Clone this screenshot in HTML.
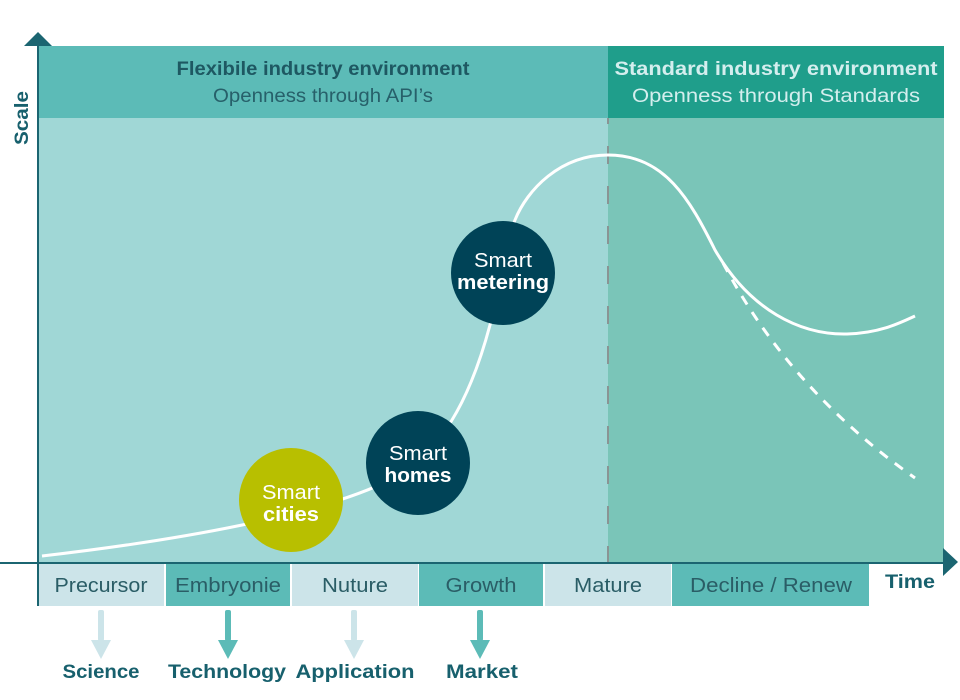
<!DOCTYPE html>
<html><head><meta charset="utf-8"><style>
html,body{margin:0;padding:0;background:#fff;}
svg{display:block;}
text{font-family:"Liberation Sans",sans-serif;}
</style></head><body>
<svg width="960" height="700" viewBox="0 0 960 700" xmlns="http://www.w3.org/2000/svg">
<!-- header -->
<rect x="38" y="46" width="570" height="72" fill="#5cbbb7"/>
<rect x="608" y="46" width="336" height="72" fill="#1f9e8b"/>
<!-- body -->
<rect x="38" y="118" width="570" height="445" fill="#a0d7d6"/>
<rect x="608" y="118" width="336" height="445" fill="#7ac5b8"/>
<!-- dashed divider -->
<line x1="608" y1="118" x2="608" y2="563" stroke="#8a9494" stroke-width="2" stroke-dasharray="18 22" stroke-dashoffset="12"/>
<!-- header texts -->
<text x="323" y="75" text-anchor="middle" font-size="19" font-weight="bold" fill="#1e5862" textLength="293" lengthAdjust="spacingAndGlyphs">Flexibile industry environment</text>
<text x="323" y="102" text-anchor="middle" font-size="19" fill="#27606a" textLength="220" lengthAdjust="spacingAndGlyphs">Openness through API’s</text>
<text x="776" y="75" text-anchor="middle" font-size="19" font-weight="bold" fill="#d4eeee" textLength="323" lengthAdjust="spacingAndGlyphs">Standard industry environment</text>
<text x="776" y="102" text-anchor="middle" font-size="19" fill="#d4eeee" textLength="288" lengthAdjust="spacingAndGlyphs">Openness through Standards</text>
<!-- curves -->
<path d="M42 556 C 180 540, 320 515, 390 480 C 440 455, 470 400, 490 325 C 498 295, 503 250, 515 220 C 527 190, 560 155, 608 155 C 665 155, 690 200, 715 250 C 750 310, 800 335, 847 334 C 880 333, 900 323, 915 316" fill="none" stroke="#fff" stroke-width="3"/>
<path d="M723 263 Q 790 390, 915 478" fill="none" stroke="#fff" stroke-width="3" stroke-dasharray="10 9"/>
<!-- circles -->
<circle cx="291" cy="500" r="52" fill="#b8bf00"/>
<circle cx="418" cy="463" r="52" fill="#004357"/>
<circle cx="503" cy="273" r="52" fill="#004357"/>
<g fill="#fff" text-anchor="middle" font-size="20">
<text x="291" y="499" textLength="58" lengthAdjust="spacingAndGlyphs">Smart</text>
<text x="291" y="521" font-weight="bold" textLength="56" lengthAdjust="spacingAndGlyphs">cities</text>
<text x="418" y="460" textLength="58" lengthAdjust="spacingAndGlyphs">Smart</text>
<text x="418" y="482" font-weight="bold" textLength="67" lengthAdjust="spacingAndGlyphs">homes</text>
<text x="503" y="267" textLength="58" lengthAdjust="spacingAndGlyphs">Smart</text>
<text x="503" y="289" font-weight="bold" textLength="92" lengthAdjust="spacingAndGlyphs">metering</text>
</g>
<!-- phase boxes -->
<rect x="39" y="564" width="125" height="42" fill="#cce4e9"/>
<rect x="166" y="564" width="124" height="42" fill="#5cbbb7"/>
<rect x="292" y="564" width="126" height="42" fill="#cce4e9"/>
<rect x="419" y="564" width="124" height="42" fill="#5cbbb7"/>
<rect x="545" y="564" width="126" height="42" fill="#cce4e9"/>
<rect x="672" y="564" width="197" height="42" fill="#5cbbb7"/>
<g fill="#2a5d66" text-anchor="middle" font-size="20">
<text x="101" y="592" textLength="93" lengthAdjust="spacingAndGlyphs">Precursor</text>
<text x="228" y="592" textLength="106" lengthAdjust="spacingAndGlyphs">Embryonie</text>
<text x="355" y="592" textLength="66" lengthAdjust="spacingAndGlyphs">Nuture</text>
<text x="481" y="592" textLength="71" lengthAdjust="spacingAndGlyphs">Growth</text>
<text x="608" y="592" textLength="68" lengthAdjust="spacingAndGlyphs">Mature</text>
<text x="771" y="592" textLength="162" lengthAdjust="spacingAndGlyphs">Decline / Renew</text>
</g>
<!-- axes -->
<line x1="0" y1="563" x2="946" y2="563" stroke="#1b6571" stroke-width="2"/>
<polygon points="943,548 958,562 943,576" fill="#1b6571"/>
<line x1="38" y1="44" x2="38" y2="606" stroke="#1b6571" stroke-width="2"/>
<polygon points="24,46 38,32 52,46" fill="#1b6571"/>
<text x="885" y="588" font-size="19" font-weight="bold" fill="#17606d" textLength="50" lengthAdjust="spacingAndGlyphs">Time</text>
<text transform="translate(28,118) rotate(-90)" text-anchor="middle" font-size="19" font-weight="bold" fill="#17606d" textLength="54" lengthAdjust="spacingAndGlyphs">Scale</text>
<!-- down arrows -->
<g>
<rect x="98" y="610" width="6" height="31" rx="2" fill="#cce4e9"/>
<polygon points="91,640 111,640 101,659" fill="#cce4e9"/>
<rect x="225" y="610" width="6" height="31" rx="2" fill="#5cbbb7"/>
<polygon points="218,640 238,640 228,659" fill="#5cbbb7"/>
<rect x="351" y="610" width="6" height="31" rx="2" fill="#cce4e9"/>
<polygon points="344,640 364,640 354,659" fill="#cce4e9"/>
<rect x="477" y="610" width="6" height="31" rx="2" fill="#5cbbb7"/>
<polygon points="470,640 490,640 480,659" fill="#5cbbb7"/>
</g>
<g fill="#17606d" text-anchor="middle" font-size="19" font-weight="bold">
<text x="101" y="678" textLength="77" lengthAdjust="spacingAndGlyphs">Science</text>
<text x="227" y="678" textLength="118" lengthAdjust="spacingAndGlyphs">Technology</text>
<text x="355" y="678" textLength="119" lengthAdjust="spacingAndGlyphs">Application</text>
<text x="482" y="678" textLength="72" lengthAdjust="spacingAndGlyphs">Market</text>
</g>
</svg>
</body></html>
